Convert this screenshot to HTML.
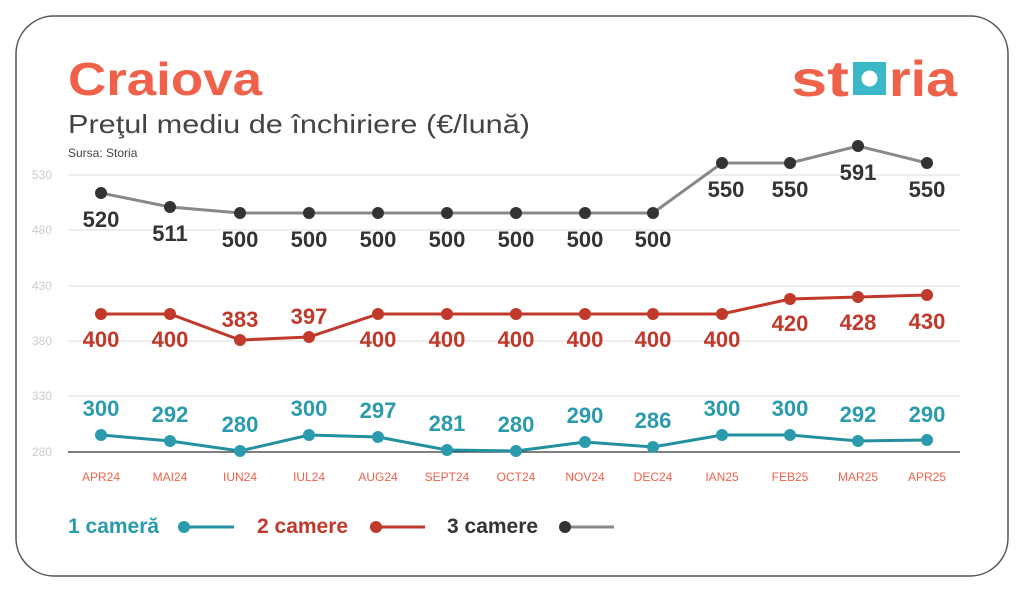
<!DOCTYPE html><html><head><meta charset="utf-8"><style>
body{margin:0;background:#fff;}
svg{display:block;font-family:"Liberation Sans",sans-serif;}
</style></head><body>
<svg width="1024" height="593" viewBox="0 0 1024 593">
<rect x="16" y="16" width="992" height="560" rx="38" fill="#fff" stroke="#555" stroke-width="1.5"/>
<text x="68" y="95" font-size="46" font-weight="bold" fill="#f0614a" textLength="194" lengthAdjust="spacingAndGlyphs">Craiova</text>
<text x="68" y="133" font-size="26" fill="#444" textLength="462" lengthAdjust="spacingAndGlyphs">Preţul mediu de închiriere (€/lună)</text>
<text x="68" y="157" font-size="12" fill="#444">Sursa: Storia</text>
<g font-size="50" font-weight="bold" fill="#f0614a">
<text x="791" y="96" textLength="58" lengthAdjust="spacingAndGlyphs">st</text>
<rect x="853" y="62" width="33" height="33" fill="#3ab8c8"/><circle cx="869.5" cy="78.5" r="8" fill="#fff"/>
<text x="889" y="96" textLength="68" lengthAdjust="spacingAndGlyphs">ria</text></g>
<g stroke="#ddd" stroke-width="1">
<line x1="68" y1="175" x2="960" y2="175"/><line x1="68" y1="230" x2="960" y2="230"/>
<line x1="68" y1="286" x2="960" y2="286"/><line x1="68" y1="341" x2="960" y2="341"/>
<line x1="68" y1="396" x2="960" y2="396"/></g>
<line x1="68" y1="452" x2="960" y2="452" stroke="#333" stroke-width="1.2"/>
<g font-size="12" fill="#ccc"><text x="32" y="179">530</text><text x="32" y="234">480</text><text x="32" y="290">430</text><text x="32" y="345">380</text><text x="32" y="400">330</text><text x="32" y="456">280</text></g>
<g font-size="12" fill="#f0614a" text-anchor="middle">
<text x="101" y="481">APR24</text><text x="170" y="481">MAI24</text><text x="240" y="481">IUN24</text><text x="309" y="481">IUL24</text><text x="378" y="481">AUG24</text><text x="447" y="481">SEPT24</text><text x="516" y="481">OCT24</text><text x="585" y="481">NOV24</text><text x="653" y="481">DEC24</text><text x="722" y="481">IAN25</text><text x="790" y="481">FEB25</text><text x="858" y="481">MAR25</text><text x="927" y="481">APR25</text></g>
<polyline fill="none" stroke="#888" stroke-width="3" points="101,193 170,207 240,213 309,213 378,213 447,213 516,213 585,213 653,213 722,163 790,163 858,146 927,163"/>
<g fill="#333"><circle cx="101" cy="193" r="6"/><circle cx="170" cy="207" r="6"/><circle cx="240" cy="213" r="6"/><circle cx="309" cy="213" r="6"/><circle cx="378" cy="213" r="6"/><circle cx="447" cy="213" r="6"/><circle cx="516" cy="213" r="6"/><circle cx="585" cy="213" r="6"/><circle cx="653" cy="213" r="6"/><circle cx="722" cy="163" r="6"/><circle cx="790" cy="163" r="6"/><circle cx="858" cy="146" r="6"/><circle cx="927" cy="163" r="6"/></g>
<g font-size="22" font-weight="bold" fill="#333" text-anchor="middle">
<text x="101" y="227">520</text><text x="170" y="241">511</text><text x="240" y="247">500</text><text x="309" y="247">500</text><text x="378" y="247">500</text><text x="447" y="247">500</text><text x="516" y="247">500</text><text x="585" y="247">500</text><text x="653" y="247">500</text><text x="726" y="197">550</text><text x="790" y="197">550</text><text x="858" y="180">591</text><text x="927" y="197">550</text></g>
<polyline fill="none" stroke="#c0392b" stroke-width="3" points="101,314 170,314 240,340 309,337 378,314 447,314 516,314 585,314 653,314 722,314 790,299 858,297 927,295"/>
<g fill="#c0392b"><circle cx="101" cy="314" r="6"/><circle cx="170" cy="314" r="6"/><circle cx="240" cy="340" r="6"/><circle cx="309" cy="337" r="6"/><circle cx="378" cy="314" r="6"/><circle cx="447" cy="314" r="6"/><circle cx="516" cy="314" r="6"/><circle cx="585" cy="314" r="6"/><circle cx="653" cy="314" r="6"/><circle cx="722" cy="314" r="6"/><circle cx="790" cy="299" r="6"/><circle cx="858" cy="297" r="6"/><circle cx="927" cy="295" r="6"/></g>
<g font-size="22" font-weight="bold" fill="#c0392b" text-anchor="middle">
<text x="101" y="347">400</text><text x="170" y="347">400</text><text x="240" y="327">383</text><text x="309" y="324">397</text><text x="378" y="347">400</text><text x="447" y="347">400</text><text x="516" y="347">400</text><text x="585" y="347">400</text><text x="653" y="347">400</text><text x="722" y="347">400</text><text x="790" y="331">420</text><text x="858" y="330">428</text><text x="927" y="329">430</text></g>
<polyline fill="none" stroke="#23909f" stroke-width="3" points="101,435 170,441 240,451 309,435 378,437 447,450 516,451 585,442 653,447 722,435 790,435 858,441 927,440"/>
<g fill="#2a9bad"><circle cx="101" cy="435" r="6"/><circle cx="170" cy="441" r="6"/><circle cx="240" cy="451" r="6"/><circle cx="309" cy="435" r="6"/><circle cx="378" cy="437" r="6"/><circle cx="447" cy="450" r="6"/><circle cx="516" cy="451" r="6"/><circle cx="585" cy="442" r="6"/><circle cx="653" cy="447" r="6"/><circle cx="722" cy="435" r="6"/><circle cx="790" cy="435" r="6"/><circle cx="858" cy="441" r="6"/><circle cx="927" cy="440" r="6"/></g>
<g font-size="22" font-weight="bold" fill="#2a9bad" text-anchor="middle">
<text x="101" y="416">300</text><text x="170" y="422">292</text><text x="240" y="432">280</text><text x="309" y="416">300</text><text x="378" y="418">297</text><text x="447" y="431">281</text><text x="516" y="432">280</text><text x="585" y="423">290</text><text x="653" y="428">286</text><text x="722" y="416">300</text><text x="790" y="416">300</text><text x="858" y="422">292</text><text x="927" y="422">290</text></g>
<g font-size="21" font-weight="bold">
<text x="68" y="533" fill="#2a9bad">1 cameră</text>
<line x1="184" y1="527" x2="234" y2="527" stroke="#23909f" stroke-width="3"/><circle cx="184" cy="527" r="6" fill="#2a9bad"/>
<text x="257" y="533" fill="#c0392b">2 camere</text>
<line x1="376" y1="527" x2="425" y2="527" stroke="#c0392b" stroke-width="3"/><circle cx="376" cy="527" r="6" fill="#c0392b"/>
<text x="447" y="533" fill="#333">3 camere</text>
<line x1="565" y1="527" x2="614" y2="527" stroke="#888" stroke-width="3"/><circle cx="565" cy="527" r="6" fill="#333"/>
</g>
</svg>
</body></html>
